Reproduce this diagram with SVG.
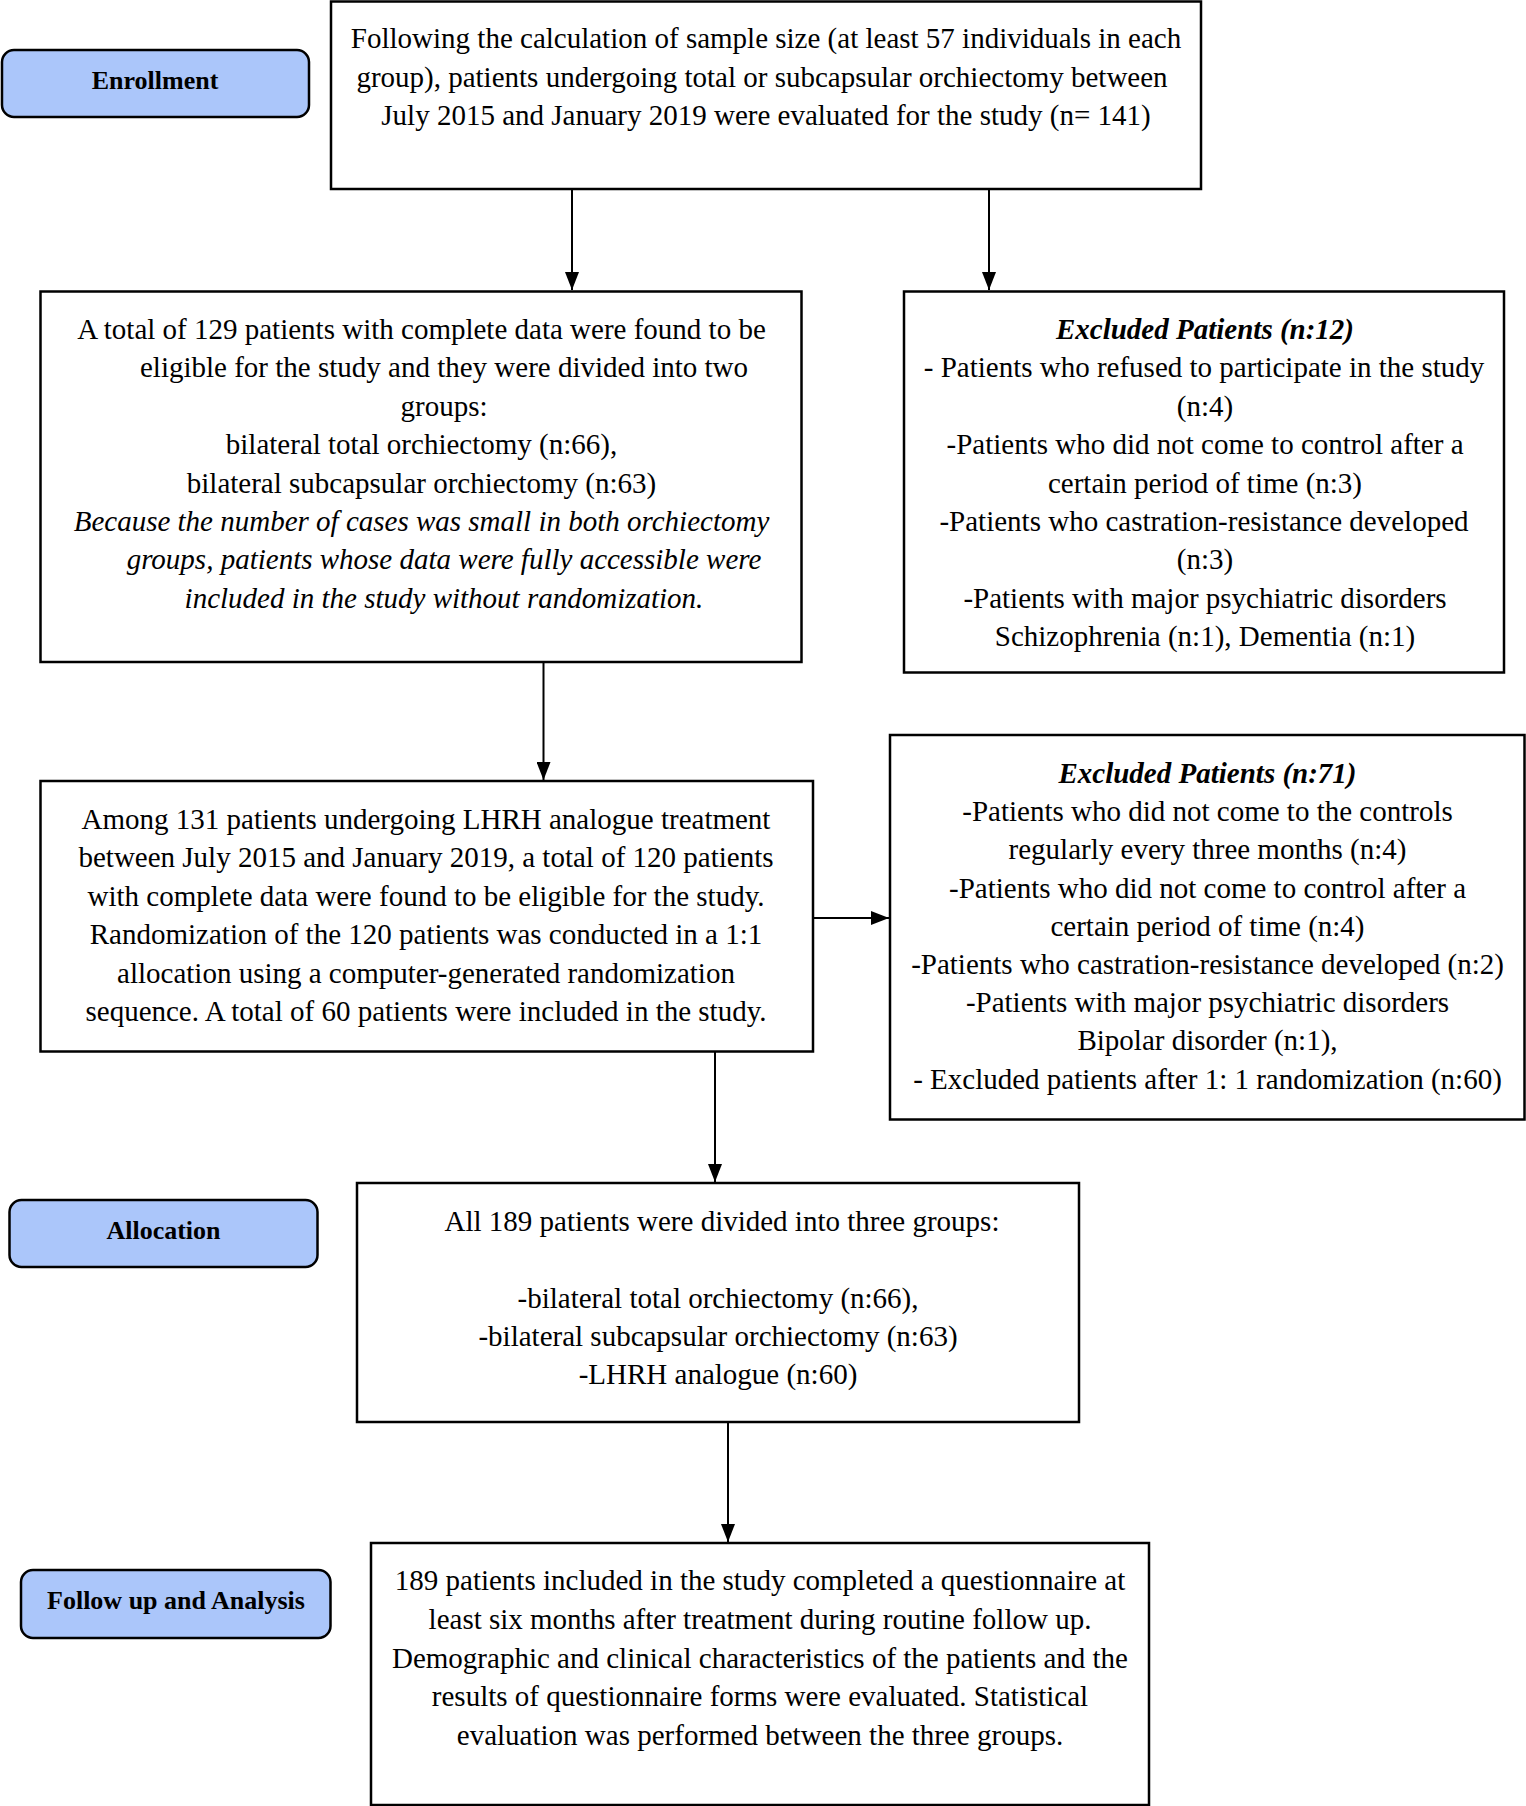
<svg xmlns="http://www.w3.org/2000/svg" width="1526" height="1806" viewBox="0 0 1526 1806">
<style>
.box{fill:#fff;stroke:#000;stroke-width:2.5}
.pill{fill:#abc6fa;stroke:#000;stroke-width:2.5}
.t{font-family:"Liberation Serif","Times New Roman",serif;font-size:29px;fill:#000;text-anchor:middle}
.i{font-style:italic}
.bi{font-style:italic;font-weight:bold}
.pt{font-family:"Liberation Serif","Times New Roman",serif;font-size:26px;font-weight:bold;fill:#000;text-anchor:middle}
.c{stroke:#000;stroke-width:2;fill:none}
</style>
<defs>
<marker id="ah" markerUnits="userSpaceOnUse" markerWidth="18" markerHeight="14" refX="18" refY="7" viewBox="0 0 18 14" orient="auto">
<path d="M0,0 L18,7 L0,14 Z" fill="#000"/>
</marker>
</defs>
<rect width="1526" height="1806" fill="#fff"/>

<g id="enrollment">
<rect class="pill" x="2" y="50" width="307" height="67" rx="12"/>
<text class="pt" x="155" y="89">Enrollment</text>
</g>

<g id="evaluated">
<rect class="box" x="331" y="1.5" width="870" height="187.5"/>
<text class="t" x="766" y="48">Following the calculation of sample size (at least 57 individuals in each</text>
<text class="t" x="762" y="87">group), patients undergoing total or subcapsular orchiectomy between</text>
<text class="t" x="766" y="125">July 2015 and January 2019 were evaluated for the study (n= 141)</text>
</g>

<g id="eligible">
<rect class="box" x="40.5" y="291.5" width="761" height="370.5"/>
<text class="t" x="421.5" y="339">A total of 129 patients with complete data were found to be</text>
<text class="t" x="444" y="377.4">eligible for the study and they were divided into two</text>
<text class="t" x="444" y="415.8">groups:</text>
<text class="t" x="421.5" y="454.2">bilateral total orchiectomy (n:66),</text>
<text class="t" x="421.5" y="492.6">bilateral subcapsular orchiectomy (n:63)</text>
<text class="t i" x="421.5" y="531">Because the number of cases was small in both orchiectomy</text>
<text class="t i" x="444" y="569.4">groups, patients whose data were fully accessible were</text>
<text class="t i" x="444" y="607.8">included in the study without randomization.</text>
</g>

<g id="excluded12">
<rect class="box" x="904" y="291.5" width="600" height="381"/>
<text class="t bi" x="1205" y="339">Excluded Patients (n:12)</text>
<text class="t" x="1204" y="377.4">- Patients who refused to participate in the study</text>
<text class="t" x="1205" y="415.8">(n:4)</text>
<text class="t" x="1205" y="454.2">-Patients who did not come to control after a</text>
<text class="t" x="1205" y="492.6">certain period of time (n:3)</text>
<text class="t" x="1204" y="531">-Patients who castration-resistance developed</text>
<text class="t" x="1205" y="569.4">(n:3)</text>
<text class="t" x="1205" y="607.8">-Patients with major psychiatric disorders</text>
<text class="t" x="1205" y="646.2">Schizophrenia (n:1), Dementia (n:1)</text>
</g>

<g id="lhrh">
<rect class="box" x="40.5" y="781" width="772.5" height="270.5"/>
<text class="t" x="426" y="829">Among 131 patients undergoing LHRH analogue treatment</text>
<text class="t" x="426" y="867.4">between July 2015 and January 2019, a total of 120 patients</text>
<text class="t" x="426" y="905.8">with complete data were found to be eligible for the study.</text>
<text class="t" x="426" y="944.2">Randomization of the 120 patients was conducted in a 1:1</text>
<text class="t" x="426" y="982.6">allocation using a computer-generated randomization</text>
<text class="t" x="426" y="1021">sequence. A total of 60 patients were included in the study.</text>
</g>

<g id="excluded71">
<rect class="box" x="890" y="735" width="634.5" height="384.5"/>
<text class="t bi" x="1207.5" y="783">Excluded Patients (n:71)</text>
<text class="t" x="1207.5" y="821.2">-Patients who did not come to the controls</text>
<text class="t" x="1207.5" y="859.4">regularly every three months (n:4)</text>
<text class="t" x="1207.5" y="897.6">-Patients who did not come to control after a</text>
<text class="t" x="1207.5" y="935.8">certain period of time (n:4)</text>
<text class="t" x="1207.5" y="974">-Patients who castration-resistance developed (n:2)</text>
<text class="t" x="1207.5" y="1012.2">-Patients with major psychiatric disorders</text>
<text class="t" x="1207.5" y="1050.4">Bipolar disorder (n:1),</text>
<text class="t" x="1207.5" y="1088.6">- Excluded patients after 1: 1 randomization (n:60)</text>
</g>

<g id="allocation">
<rect class="pill" x="9.5" y="1200" width="308" height="67" rx="12"/>
<text class="pt" x="163.5" y="1239">Allocation</text>
</g>

<g id="groups">
<rect class="box" x="357" y="1183" width="722" height="239"/>
<text class="t" x="722" y="1231">All 189 patients were divided into three groups:</text>
<text class="t" x="718" y="1308">-bilateral total orchiectomy (n:66),</text>
<text class="t" x="718" y="1346">-bilateral subcapsular orchiectomy (n:63)</text>
<text class="t" x="718" y="1384">-LHRH analogue (n:60)</text>
</g>

<g id="followup">
<rect class="pill" x="21" y="1570" width="309.5" height="68" rx="12"/>
<text class="pt" x="176" y="1609">Follow up and Analysis</text>
</g>

<g id="analysis">
<rect class="box" x="371" y="1543" width="778" height="262"/>
<text class="t" x="760" y="1590">189 patients included in the study completed a questionnaire at</text>
<text class="t" x="760" y="1629">least six months after treatment during routine follow up.</text>
<text class="t" x="760" y="1667.5">Demographic and clinical characteristics of the patients and the</text>
<text class="t" x="760" y="1705.5">results of questionnaire forms were evaluated. Statistical</text>
<text class="t" x="760" y="1744.5">evaluation was performed between the three groups.</text>
</g>

<g id="connectors">
<line class="c" x1="572" y1="189" x2="572" y2="290" marker-end="url(#ah)"/>
<line class="c" x1="989" y1="189" x2="989" y2="290" marker-end="url(#ah)"/>
<line class="c" x1="543.5" y1="662" x2="543.5" y2="780" marker-end="url(#ah)"/>
<line class="c" x1="813" y1="918" x2="889" y2="918" stroke-width="3.5" marker-end="url(#ah)"/>
<line class="c" x1="715" y1="1051.5" x2="715" y2="1182" marker-end="url(#ah)"/>
<line class="c" x1="728" y1="1422" x2="728" y2="1542" marker-end="url(#ah)"/>
</g>
</svg>
